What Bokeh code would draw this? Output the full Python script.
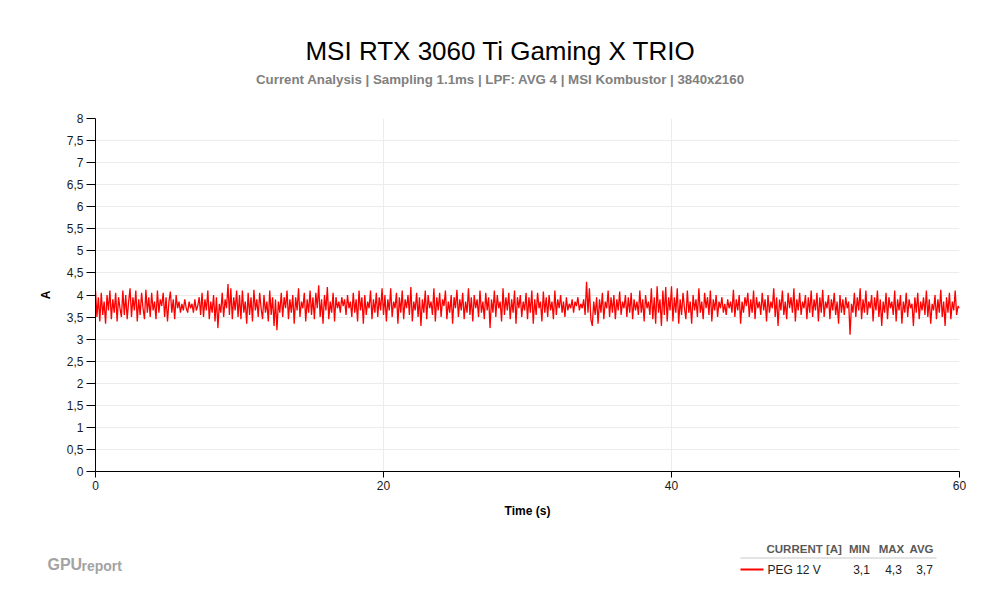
from bokeh.plotting import figure
from bokeh.models import Range1d, FixedTicker
from bokeh.layouts import column
from bokeh.core.properties import value
from bokeh.embed import file_html
from bokeh.resources import INLINE
import numpy as np

# ---------------- data ----------------
title_text = "MSI RTX 3060 Ti Gaming X TRIO"
subtitle_text = "Current Analysis | Sampling 1.1ms | LPF: AVG 4 | MSI Kombustor | 3840x2160"
series_name = "PEG 12 V"
legend_header = ["CURRENT [A]", "MIN", "MAX", "AVG"]
legend_stats = [3.1, 4.3, 3.7]          # min, max, avg as printed in the chart
x_ticks = [0, 20, 40, 60]
y_ticks = [0, 0.5, 1, 1.5, 2, 2.5, 3, 3.5, 4, 4.5, 5, 5.5, 6, 6.5, 7, 7.5, 8]

seg_00_10 = [4.10, 3.50, 3.95, 3.40, 4.05, 3.55, 3.85, 3.35, 4.00, 3.65,
             4.10, 3.45, 3.90, 3.60, 4.05, 3.40, 3.95, 3.70, 3.50, 4.10,
             3.55, 4.00, 3.45, 3.85, 4.15, 3.50, 3.95, 3.65, 4.10, 3.40,
             3.90, 3.55, 4.05, 3.70, 3.45, 4.12, 3.60, 3.95, 3.50, 4.05,
             3.65, 3.85, 3.45, 4.10, 3.60, 3.90, 3.75, 4.05, 3.50, 3.95,
             3.40, 3.85, 4.08, 3.60, 3.90, 3.45, 4.00, 3.70, 3.85, 3.60,
             3.80, 3.65, 3.90, 3.70, 3.60, 3.85, 3.70, 3.80, 3.60, 3.90,
             3.65, 3.75, 3.95, 3.55, 4.05, 3.50, 3.90, 3.65, 4.10, 3.45,
             3.85, 3.60, 4.00, 3.40, 3.95, 3.25, 3.80, 3.60, 4.05, 3.50,
             3.90, 3.70, 4.25, 3.55, 4.15, 3.45, 3.95, 3.65, 4.10, 3.50]
seg_10_20 = [4.00, 3.45, 4.10, 3.60, 3.85, 3.35, 4.05, 3.55, 3.95, 3.40,
             4.12, 3.65, 3.90, 3.50, 4.05, 3.70, 3.45, 4.00, 3.60, 3.85,
             3.40, 4.10, 3.55, 3.95, 3.30, 3.90, 3.20, 3.85, 3.60, 4.05,
             3.50, 3.95, 3.70, 4.10, 3.45, 3.90, 3.60, 4.00, 3.35, 3.95,
             3.65, 4.15, 3.50, 3.85, 3.70, 4.05, 3.40, 3.90, 3.60, 4.10,
             3.55, 3.95, 3.45, 4.05, 3.70, 4.22, 3.50, 3.90, 3.35, 4.00,
             3.65, 4.18, 3.45, 3.85, 3.60, 4.05, 3.40, 3.95, 3.70, 3.85,
             3.60, 3.95, 3.75, 3.90, 3.55, 4.00, 3.70, 3.85, 3.50, 4.05,
             3.60, 3.90, 3.40, 4.10, 3.65, 3.95, 3.35, 4.00, 3.55, 3.85,
             3.70, 4.10, 3.45, 3.90, 3.60, 4.05, 3.50, 3.95, 3.65, 4.15]
seg_20_30 = [3.55, 4.00, 3.40, 3.90, 3.65, 4.15, 3.50, 3.85, 3.70, 4.05,
             3.35, 3.95, 3.60, 4.10, 3.45, 3.90, 3.70, 4.00, 3.55, 4.18,
             3.40, 3.85, 3.65, 4.05, 3.50, 3.95, 3.30, 3.90, 3.60, 4.10,
             3.45, 4.00, 3.70, 3.85, 3.55, 4.15, 3.40, 3.95, 3.65, 4.05,
             3.50, 3.90, 3.75, 4.10, 3.45, 3.85, 3.60, 4.00, 3.35, 3.95,
             3.70, 4.12, 3.50, 3.90, 3.65, 4.05, 3.45, 3.85, 3.60, 4.15,
             3.55, 3.95, 3.40, 4.00, 3.70, 3.90, 3.50, 4.10, 3.60, 3.85,
             3.45, 4.05, 3.65, 3.95, 3.25, 3.90, 3.60, 4.10, 3.50, 4.00,
             3.70, 3.85, 3.40, 4.15, 3.55, 3.95, 3.65, 4.05, 3.45, 3.90,
             3.60, 4.10, 3.35, 3.95, 3.70, 4.00, 3.50, 3.85, 3.65, 4.05]
seg_30_40 = [3.45, 3.95, 3.60, 4.10, 3.35, 3.90, 3.55, 4.05, 3.70, 3.85,
             3.40, 4.08, 3.60, 3.95, 3.50, 4.00, 3.65, 3.85, 3.45, 4.10,
             3.55, 3.90, 3.70, 4.00, 3.60, 3.85, 3.50, 3.95, 3.65, 3.80,
             3.70, 3.90, 3.60, 3.85, 3.75, 3.95, 3.65, 3.80, 3.70, 3.90,
             3.55, 4.30, 3.60, 4.15, 3.45, 3.30, 3.85, 3.55, 3.95, 3.35,
             3.90, 3.60, 4.05, 3.45, 3.85, 3.70, 4.10, 3.50, 3.95, 3.60,
             4.00, 3.45, 3.90, 3.65, 4.08, 3.55, 3.85, 3.70, 4.00, 3.50,
             3.95, 3.60, 4.05, 3.45, 3.90, 3.65, 3.85, 3.55, 4.10, 3.60,
             3.90, 3.40, 4.00, 3.70, 3.85, 3.55, 4.15, 3.45, 3.95, 3.35,
             4.20, 3.60, 3.90, 3.30, 4.10, 3.55, 4.18, 3.40, 3.95, 3.65]
seg_40_50 = [4.20, 3.40, 3.95, 3.60, 4.15, 3.35, 3.90, 3.55, 4.05, 3.70,
             3.45, 4.10, 3.60, 3.85, 3.35, 4.00, 3.65, 3.90, 3.50, 4.15,
             3.60, 3.85, 3.45, 4.05, 3.70, 3.95, 3.55, 4.10, 3.40, 3.90,
             3.65, 4.00, 3.50, 3.85, 3.70, 3.95, 3.60, 3.80, 3.55, 3.90,
             3.70, 3.85, 3.60, 4.12, 3.50, 3.90, 3.65, 4.00, 3.35, 3.85,
             3.60, 3.95, 3.75, 4.05, 3.50, 3.90, 3.60, 4.10, 3.45, 3.95,
             3.70, 3.85, 3.55, 4.05, 3.65, 3.90, 3.40, 4.00, 3.60, 3.85,
             3.70, 4.15, 3.50, 3.95, 3.30, 3.90, 3.65, 4.10, 3.55, 3.85,
             3.45, 4.05, 3.70, 3.95, 3.60, 4.15, 3.40, 3.90, 3.65, 4.05,
             3.55, 3.85, 3.70, 4.00, 3.45, 3.95, 3.60, 4.10, 3.50, 3.90]
seg_50_60 = [3.65, 4.05, 3.40, 3.95, 3.60, 4.12, 3.50, 3.85, 3.70, 4.00,
             3.45, 3.90, 3.65, 4.05, 3.55, 3.85, 3.35, 4.00, 3.60, 3.90,
             3.55, 3.95, 3.70, 3.85, 3.10, 3.80, 3.60, 4.05, 3.50, 3.95,
             3.65, 4.15, 3.45, 3.90, 3.60, 4.10, 3.55, 3.85, 3.70, 4.00,
             3.40, 3.95, 3.65, 4.10, 3.50, 3.90, 3.30, 3.85, 3.60, 4.05,
             3.45, 3.95, 3.70, 3.85, 3.55, 4.10, 3.40, 3.90, 3.65, 4.00,
             3.35, 3.85, 3.60, 4.05, 3.50, 3.90, 3.70, 3.80, 3.30, 3.95,
             3.60, 4.05, 3.45, 3.85, 3.65, 3.95, 3.55, 4.10, 3.50, 3.90,
             3.35, 3.80, 3.65, 4.00, 3.45, 3.90, 3.60, 4.12, 3.50, 3.85,
             3.30, 3.95, 3.60, 4.05, 3.45, 3.85, 3.65, 4.10, 3.55, 3.75,
             3.70]
current = seg_00_10 + seg_10_20 + seg_20_30 + seg_30_40 + seg_40_50 + seg_50_60
time_s = np.linspace(0, 60, len(current))

# ---------------- layout ----------------
W = 990
FONT = "Liberation Sans"
HEAD_H, MAIN_H, FOOT_H = 100, 440, 50


def no_align(f):
    try:
        f.frame_align = False
    except Exception:
        pass


def blank(h):
    f = figure(width=W, height=h, output_backend="svg", toolbar_location=None,
               x_range=Range1d(0, W), y_range=Range1d(h, 0),
               x_axis_type=None, y_axis_type=None, min_border=0,
               outline_line_color=None)
    f.background_fill_color = "white"
    f.border_fill_color = "white"
    no_align(f)
    return f


def fmt(v):
    return ("%g" % v).replace(".", ",")


# header
head = blank(HEAD_H)
head.text(x=[500], y=[50], text=[title_text], text_font=value(FONT),
          text_font_size="26px", text_color="black", text_align="center",
          text_baseline="middle")
head.text(x=[500], y=[79], text=[subtitle_text], text_font=value(FONT),
          text_font_size="13.3px", text_font_style="bold", text_color="#808080",
          text_align="center", text_baseline="middle")

# main plot
p = figure(width=W, height=MAIN_H, output_backend="svg", toolbar_location=None,
           x_range=Range1d(0, 60), y_range=Range1d(0, 8),
           min_border_left=95, min_border_right=W - 959,
           min_border_top=18, min_border_bottom=MAIN_H - 371,
           outline_line_color=None)
no_align(p)
p.background_fill_color = "white"
p.border_fill_color = "white"
p.line(time_s, current, line_color="#ff0000", line_width=1.3)

p.xaxis.ticker = FixedTicker(ticks=x_ticks)
p.yaxis.ticker = FixedTicker(ticks=y_ticks)
p.yaxis.major_label_overrides = {v: fmt(v) for v in y_ticks}
p.xaxis.major_label_overrides = {v: fmt(v) for v in x_ticks}
for ax in (p.xaxis, p.yaxis):
    ax.axis_line_color = "black"
    ax.major_tick_line_color = "black"
    ax.minor_tick_line_color = None
    ax.major_tick_in = 0
    ax.major_label_text_font = FONT
    ax.major_label_text_font_size = "12px"
    ax.major_label_text_color = "#1a1a1a"
    ax.axis_label_text_font = FONT
    ax.axis_label_text_font_size = "12px"
    ax.axis_label_text_font_style = "bold"
    ax.axis_label_text_color = "black"
p.yaxis.major_tick_out = 9
p.xaxis.major_tick_out = 6
p.xaxis.axis_label = "Time (s)"
p.yaxis.axis_label = "A"
p.xaxis.major_label_standoff = 3
p.yaxis.major_label_standoff = 3
p.xaxis.axis_label_standoff = 11
p.yaxis.axis_label_standoff = 11
p.xgrid.grid_line_color = "#ececec"
p.ygrid.grid_line_color = "#ececec"

# footer: legend table + watermark
foot = blank(FOOT_H)
foot.text(x=[47], y=[24], text=["GPU"], text_font=value(FONT), text_font_size="16px",
          text_font_style="bold", text_color="#a3a3a3", text_baseline="middle")
foot.text(x=[81], y=[25], text=["report"], text_font=value(FONT), text_font_size="14px",
          text_font_style="bold", text_color="#a3a3a3", text_baseline="middle")
foot.text(x=[766], y=[8], text=[legend_header[0]], text_font=value(FONT),
          text_font_size="11.5px", text_font_style="bold", text_color="#595959",
          text_baseline="middle")
foot.text(x=[859, 891, 921], y=[8, 8, 8], text=legend_header[1:], text_font=value(FONT),
          text_font_size="11.5px", text_font_style="bold", text_color="#595959",
          text_align="center", text_baseline="middle")
foot.segment(x0=[740], y0=[17.5], x1=[936], y1=[17.5], line_color="#c8c8c8", line_width=1)
foot.segment(x0=[740], y0=[29], x1=[763], y1=[29], line_color="#ff0000", line_width=2)
foot.text(x=[767], y=[29], text=[series_name], text_font=value(FONT),
          text_font_size="12px", text_color="#222222", text_baseline="middle")
foot.text(x=[861, 893, 924], y=[29, 29, 29], text=[fmt(v) for v in legend_stats],
          text_font=value(FONT), text_font_size="12px", text_color="#222222",
          text_align="center", text_baseline="middle")

layout = column(head, p, foot, spacing=0)
open("out.html", "w").write(file_html(layout, INLINE))
